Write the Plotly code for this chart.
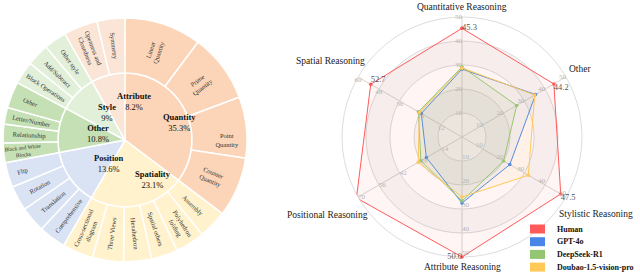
import math
import plotly.graph_objects as go

# ---------------- Sunburst (left) data ----------------
categories = ["Quantity", "Spatiality", "Position", "Other", "Style", "Attribute"]
category_share = [35.3, 23.1, 13.6, 10.8, 9, 8.2]
category_colors = ["#FCD5B8", "#FFF2CC", "#DAE3F3", "#C5E0B4", "#E2F0D9", "#FBE5D6"]

quantity_subs = ["Linear<br>Quantity", "Prime<br>Quantity", "Point<br>Quantity", "Counter<br>Quantity"]
quantity_vals = [10.2, 9.1, 8.1, 7.9]
spatiality_subs = ["Assembly", "Polyhedron<br>folding", "Spatial others", "Hexahedron",
                   "Three Views", "Cross-sectional<br>diagram"]
spatiality_vals = [3.8, 3.9, 3.5, 3.7, 4.1, 4.1]
position_subs = ["Comprehensive", "Translation", "Rotation", "Flip"]
position_vals = [3.6, 3.4, 3.3, 3.3]
other_subs = ["Black and White<br>Blocks", "Relationship", "Letter/Number", "Other"]
other_vals = [2.6, 2.5, 2.2, 3.5]
style_subs = ["Block Operations", "Add/Subtract", "Other style"]
style_vals = [3, 3, 3]
attribute_subs = ["Openness and<br>Closedness", "Symmetry"]
attribute_vals = [4.5, 3.7]

sub_labels = [quantity_subs, spatiality_subs, position_subs, other_subs, style_subs, attribute_subs]
sub_values = [quantity_vals, spatiality_vals, position_vals, other_vals, style_vals, attribute_vals]

# ---------------- Radar (right) data ----------------
radar_axes = ["Quantitative Reasoning", "Other", "Stylistic Reasoning",
              "Attribute Reasoning", "Positional Reasoning", "Spatial Reasoning"]
axis_max = [50, 50, 50, 50, 70, 60]
human = [45.3, 44.2, 47.5, 50.0, 71.1, 52.7]
gpt4o = [28.3, 35.4, 23.0, 27.5, 24.0, 23.5]
deepseek_r1 = [29.2, 26.3, 20.0, 26.7, 27.7, 25.2]
doubao = [28.8, 35.0, 31.9, 25.0, 29.5, 24.6]
models = ["Human", "GPT-4o", "DeepSeek-R1", "Doubao-1.5-vision-pro"]
model_series = [human, gpt4o, deepseek_r1, doubao]
model_colors = ["#FF5A5A", "#4A86E8", "#93C572", "#FFC857"]
model_fills = ["rgba(255,90,90,0.06)", "rgba(74,134,232,0.07)",
               "rgba(147,197,114,0.08)", "rgba(255,200,87,0.08)"]

FONT = "Liberation Serif"
W, H = 640, 276

fig = go.Figure()
annotations = []
shapes = []

# ---------------- Sunburst via two pies ----------------
SUN_CX, SUN_CY = 125, 136      # px, y measured from bottom
R_OUT, R_IN, LABEL_R = 122, 67, 40

fig.add_trace(go.Pie(
    values=category_share, labels=categories, sort=False, direction="clockwise",
    marker=dict(colors=category_colors, line=dict(color="white", width=1.5)),
    textinfo="none", hoverinfo="skip", showlegend=False,
    domain=dict(x=[(SUN_CX - R_IN) / W, (SUN_CX + R_IN) / W],
                y=[(SUN_CY - R_IN) / H, (SUN_CY + R_IN) / H]),
))

outer_labels, outer_values, outer_colors = [], [], []
for labs, vals, col in zip(sub_labels, sub_values, category_colors):
    outer_labels += labs
    outer_values += vals
    outer_colors += [col] * len(labs)

fig.add_trace(go.Pie(
    values=outer_values, labels=outer_labels, sort=False, direction="clockwise",
    hole=R_IN / R_OUT,
    marker=dict(colors=outer_colors, line=dict(color="white", width=1.5)),
    textinfo="label", textposition="inside", insidetextorientation="radial",
    textfont=dict(family=FONT, size=6.5, color="#333333"),
    hoverinfo="skip", showlegend=False,
    domain=dict(x=[(SUN_CX - R_OUT) / W, (SUN_CX + R_OUT) / W],
                y=[(SUN_CY - R_OUT) / H, (SUN_CY + R_OUT) / H]),
))

cum = 0.0
for cat, v in zip(categories, category_share):
    mid = math.radians((cum + v / 2) * 3.6)
    cum += v
    annotations.append(dict(
        x=(SUN_CX + LABEL_R * math.sin(mid)) / W,
        y=(SUN_CY + LABEL_R * math.cos(mid)) / H,
        xref="paper", yref="paper", showarrow=False,
        text=f"<b>{cat}</b><br>{v:g}%",
        font=dict(family=FONT, size=8.5, color="#111111"),
    ))

# ---------------- Radar ----------------
RAD_CX, RAD_CY, RAD_R = 462, 139, 120   # px, y from bottom
n = len(radar_axes)
axis_angles = [i * 360 / n for i in range(n)]
grid_fracs = [0.2, 0.4, 0.6, 0.8, 1.0]

# alternating background bands
for lo, hi in [(grid_fracs[0], grid_fracs[1]), (grid_fracs[2], grid_fracs[3])]:
    fig.add_trace(go.Barpolar(theta=[0], r=[hi - lo], base=[lo], width=[360],
                              marker=dict(color="rgba(0,0,0,0.03)", line=dict(width=0)),
                              hoverinfo="skip", showlegend=False, subplot="polar"))

for name, vals, col, fill in zip(models, model_series, model_colors, model_fills):
    r = [v / m for v, m in zip(vals, axis_max)]
    fig.add_trace(go.Scatterpolar(
        r=r + r[:1], theta=axis_angles + axis_angles[:1], mode="lines+markers",
        fill="toself", fillcolor=fill, name=name,
        line=dict(color=col, width=1), marker=dict(size=3.5, color=col),
        hoverinfo="skip", showlegend=False, subplot="polar",
    ))

# per-axis tick labels
tick_pos = ["middle left", "middle left", "top left", "top right", "middle right", "bottom center"]
for ang, m, pos in zip(axis_angles, axis_max, tick_pos):
    fig.add_trace(go.Scatterpolar(
        r=grid_fracs, theta=[ang] * len(grid_fracs), mode="text",
        text=[f"{f * m:g}" for f in grid_fracs], textposition=pos,
        textfont=dict(family=FONT, size=7, color="#b5b5b5"),
        cliponaxis=False, hoverinfo="skip", showlegend=False, subplot="polar",
    ))

# Human value labels
value_pos = ["middle right", "bottom right", "bottom right", "middle left", "top left", "top right"]
fig.add_trace(go.Scatterpolar(
    r=[v / m for v, m in zip(human, axis_max)], theta=axis_angles, mode="text",
    text=[f"{v:.1f}" for v in human], textposition=value_pos,
    textfont=dict(family=FONT, size=8.5, color="#555555"),
    cliponaxis=False, hoverinfo="skip", showlegend=False, subplot="polar",
))

# axis names around the radar
AX_FONT = 9.5
for ang, lab in zip(axis_angles, radar_axes):
    a = math.radians(ang)
    est_w = 0.45 * AX_FONT * len(lab)
    rr = RAD_R * 1.08 + 0.35 * est_w * abs(math.sin(a))
    annotations.append(dict(
        x=(RAD_CX + rr * math.sin(a)) / W, y=(RAD_CY + rr * math.cos(a)) / H,
        xref="paper", yref="paper", showarrow=False, text=lab,
        xanchor="center", yanchor="middle",
        font=dict(family=FONT, size=AX_FONT, color="#222222"),
    ))

# legend (swatches + bold names)
LEG_X, LEG_TOP, LEG_DY, SW_W, SW_H = 530, 229, 12.7, 15, 9
for i, (name, col) in enumerate(zip(models, model_colors)):
    yc = H - (LEG_TOP + i * LEG_DY)
    shapes.append(dict(type="rect", xref="paper", yref="paper",
                       x0=LEG_X / W, x1=(LEG_X + SW_W) / W,
                       y0=(yc - SW_H / 2) / H, y1=(yc + SW_H / 2) / H,
                       fillcolor=col, line=dict(width=0)))
    annotations.append(dict(
        x=(LEG_X + SW_W + 10) / W, y=yc / H, xref="paper", yref="paper",
        xanchor="left", yanchor="middle", showarrow=False, text=f"<b>{name}</b>",
        font=dict(family=FONT, size=8, color="#111111"),
    ))

fig.update_layout(
    width=W, height=H, margin=dict(l=0, r=0, t=0, b=0, autoexpand=False),
    paper_bgcolor="white", plot_bgcolor="white",
    font=dict(family=FONT), showlegend=False,
    annotations=annotations, shapes=shapes,
    polar=dict(
        domain=dict(x=[(RAD_CX - RAD_R) / W, (RAD_CX + RAD_R) / W],
                    y=[(RAD_CY - RAD_R) / H, (RAD_CY + RAD_R) / H]),
        bgcolor="white",
        angularaxis=dict(rotation=90, direction="clockwise", tickmode="array",
                         tickvals=axis_angles, showticklabels=False, ticks="",
                         showline=True, linecolor="#dddddd", linewidth=1,
                         gridcolor="#d5d5d5", layer="below traces"),
        radialaxis=dict(range=[0, 1], tickvals=grid_fracs, showticklabels=False,
                        ticks="", showline=False, gridcolor="#dddddd",
                        layer="below traces"),
    ),
)

fig.write_html("out.html", config={"displayModeBar": False},
               post_script="document.body.style.margin='0';")
